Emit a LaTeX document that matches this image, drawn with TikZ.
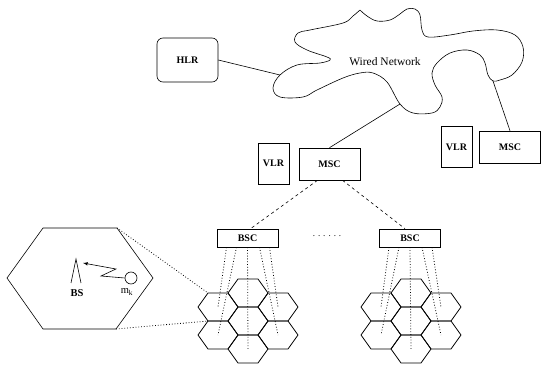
\documentclass[tikz,border=0pt]{standalone}
\usepackage{fontspec}
\setmainfont{Liberation Serif}
\usepackage{xcolor}
\usepackage{tikz}
\usetikzlibrary{calc}
\newcommand{\boxfont}{\fontsize{10}{12}\selectfont\bfseries}
\newcommand{\hexcell}[2]{%
  \coordinate (#1) at #2;
  \draw[cell] (#1) ++(-20,0) -- ++(10,-14) -- ++(20,0) -- ++(10,14)
    -- ++(-10,14) -- ++(-20,0) -- cycle;
}
\newcommand{\cellcluster}[2]{%
  \foreach \hrow/\hy in {1/293,2/321,3/349} {\hexcell{#1-m\hrow}{(#2,\hy)}}
  \foreach \hrow/\hy in {1/307,2/335} {
    \hexcell{#1-l\hrow}{(#2-30,\hy)}
    \hexcell{#1-r\hrow}{(#2+30,\hy)}
  }
}
\tikzset{
    box/.style={draw, rectangle, line width=0.6pt, inner sep=0pt, font=\boxfont},
    hlrbox/.style={box, rounded corners=6pt, minimum width=61, minimum height=44},
    vlrbox/.style={box, minimum width=31, minimum height=41},
    mscbox/.style={box, minimum width=61, minimum height=32},
    bscbox/.style={box, minimum width=61, minimum height=18},
    cell/.style={line width=0.8pt},
    wire/.style={line width=0.6pt},
    link/.style={dashed, line width=0.6pt},
    feed/.style={dotted, line width=0.8pt},
    zoomline/.style={dotted, line width=0.8pt}
}
\begin{document}
\begin{tikzpicture}[x=1pt, y=-1pt]
  \useasboundingbox (0,0) rectangle (541,366);

  % wired network
  \draw[wire] plot[smooth, tension=0.6] coordinates {
    (360,10) (367,16) (377,21) (390,20) (400,14) (407,9) (415,9) (420,15)
    (422,30) (428,37) (450,35) (473,31) (497,30) (515,35) (523,47) (522,62)
    (512,75) (500,80) (493,81) (488,75) (485,63) (480,55) (467,50) (450,53)
    (437,63) (432,73) (435,85) (442,97) (440,107) (432,113) (413,113) (400,104)
    (387,82) (373,73) (360,73) (343,78) (317,90) (303,97) (280,97) (273,88)
    (280,75) (297,65) (320,63) (330,60) (327,57) (307,50) (295,42) (298,33)
    (310,30) (343,23) (353,16) (360,10)};
  \node[font=\fontsize{11.5}{13}\selectfont] (net) at (385,62) {Wired Network};
  \coordinate (net-hlr) at (280,75);
  \coordinate (net-msc1) at (400,104);
  \coordinate (net-msc2) at (493,81);

  \path
    node[hlrbox] (hlr) at (187.5,60) {HLR}
    node[vlrbox] (vlr1) at (273.5,163.5) {VLR}
    node[mscbox] (msc1) at (329.5,164) {MSC}
    node[vlrbox] (vlr2) at (456.5,147) {VLR}
    node[mscbox] (msc2) at (510,147) {MSC}
    node[bscbox] (bsc1) at (247.5,238) {BSC}
    node[bscbox] (bsc2) at (410,238) {BSC}
    node[font=\fontsize{9}{10}\selectfont] (more) at (327,236) {. . . . . .};

  \draw[wire] (hlr.east) -- (net-hlr);
  \draw[wire] (net-msc1) -- (msc1.north);
  \draw[wire] (net-msc2) -- (msc2.north);

  \draw[link] ($(msc1.south)+(-12,0)$) -- ($(bsc1.north)+(3,0)$);
  \draw[link] ($(msc1.south)+(13,0)$) -- ($(bsc2.north)+(-5,0)$);

  % cells
  \cellcluster{cell1}{248}
  \cellcluster{cell2}{411}

  \foreach \n in {1,2} {
    \draw[feed] ($(bsc\n.south)+(-21,0)$) -- (cell\n-l1);
    \draw[feed] ($(bsc\n.south)+(-11,0)$) -- (cell\n-l2);
    \draw[feed] (bsc\n.south) -- (cell\n-m3);
    \draw[feed] ($(bsc\n.south)+(12,0)$) -- (cell\n-r2);
    \draw[feed] ($(bsc\n.south)+(22,0)$) -- (cell\n-r1);
  }

  % zoomed cell
  \coordinate (zoom) at (80,278);
  \draw[wire] (zoom) ++(-73,0) -- ++(36,-50) -- ++(74,0) -- ++(36,50)
    -- ++(-37,51) -- ++(-73,0) -- cycle;
  \coordinate (zoom-ne) at ($(zoom)+(37,-50)$);
  \coordinate (zoom-se) at ($(zoom)+(36,51)$);
  \draw[zoomline] (zoom-ne) -- ($(cell1-l1)+(-10,-14)$);
  \draw[zoomline] (zoom-se) -- ($(cell1-l1)+(-10,14)$);

  \coordinate (bs-top) at (76,259);
  \draw[wire] (71,283) -- (bs-top) -- (81,283);
  \node[font=\fontsize{10.5}{12}\selectfont\bfseries] (bs) at (77,293) {BS};
  \node[draw, circle, line width=0.6pt, minimum size=12, inner sep=0pt] (mk) at (131,278) {};
  \node[font=\fontsize{10.5}{12}\selectfont] (mk-label) at (127,292) {m\textsubscript{k}};
  \coordinate (signal-end) at (83,263);
  \draw[wire, -latex] (mk.west) -- (101,276) -- (116,269) -- (signal-end);
\end{tikzpicture}
\end{document}
